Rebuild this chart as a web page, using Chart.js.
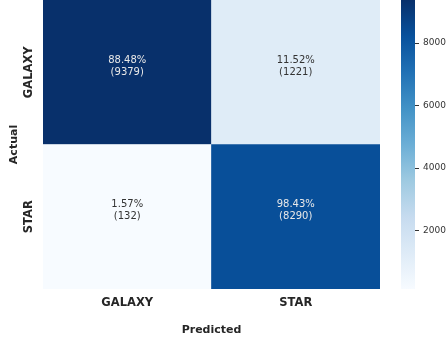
<!DOCTYPE html>
<html>
<head>
<meta charset="utf-8">
<script src="https://cdn.jsdelivr.net/npm/chart.js@4.4.1/dist/chart.umd.min.js"></script>
<style>
  html, body { margin: 0; padding: 0; background: #fff; }
  #wrap { position: relative; width: 446px; height: 347px; overflow: hidden; }
  #matriz { position: absolute; left: 0; top: 0; }
  #barra { position: absolute; left: 390px; top: 0; }
</style>
</head>
<body>
<div id="wrap">
  <canvas id="matriz" width="380" height="347"></canvas>
  <canvas id="barra" width="56" height="347"></canvas>
</div>
<script>
// Classes previstas (colunas) e reais (linhas)
const classesPrevistas = ['GALAXY', 'STAR'];
const classesReais = ['GALAXY', 'STAR'];

// Contagens por linha da matriz de confusão
const contagemGalaxy = [9379, 1221];
const contagemStar = [132, 8290];

// Marcas da barra de cores
const ticksBarra = [2000, 4000, 6000, 8000];

// Paleta "Blues"
const BLUES = ['#f7fbff', '#deebf7', '#c6dbef', '#9ecae1', '#6baed6', '#4292c6', '#2171b5', '#08519c', '#08306b'];

const linhas = [contagemGalaxy, contagemStar];
const todos = linhas.flat();
const vmin = Math.min(...todos);
const vmax = Math.max(...todos);

Chart.defaults.font.family = '"DejaVu Sans", sans-serif';
Chart.defaults.animation = false;

function hexRgb(h) {
    return [1, 3, 5].map(i => parseInt(h.substr(i, 2), 16));
}

function corBlues(valor) {
    let t = (valor - vmin) / (vmax - vmin);
    t = Math.max(0, Math.min(1, t));
    const pos = t * (BLUES.length - 1);
    const i = Math.min(Math.floor(pos), BLUES.length - 2);
    const f = pos - i;
    const a = hexRgb(BLUES[i]);
    const b = hexRgb(BLUES[i + 1]);
    const c = a.map((v, k) => Math.round(v + (b[k] - v) * f));
    return 'rgb(' + c.join(',') + ')';
}

// Texto dentro das células: percentual da linha e contagem
const textoCelulas = {
    id: 'textoCelulas',
    afterDatasetsDraw(chart) {
        const ctx = chart.ctx;
        ctx.save();
        ctx.font = '10px "DejaVu Sans"';
        ctx.textAlign = 'center';
        ctx.textBaseline = 'middle';
        chart.data.datasets.forEach((ds, di) => {
            const meta = chart.getDatasetMeta(di);
            const total = ds.contagens.reduce((a, b) => a + b, 0);
            meta.data.forEach((bar, i) => {
                const n = ds.contagens[i];
                const pct = (n / total * 100).toFixed(2) + '%';
                const cy = (bar.y + bar.base) / 2;
                const t = (n - vmin) / (vmax - vmin);
                ctx.fillStyle = t > 0.5 ? '#e8e8e8' : '#333333';
                ctx.fillText(pct, bar.x, cy - 12);
                ctx.fillText('(' + n + ')', bar.x, cy);
            });
        });
        ctx.restore();
    }
};

// Rótulos verticais do eixo Y
const rotulosY = {
    id: 'rotulosY',
    afterDraw(chart) {
        const escala = chart.scales.y;
        const ctx = chart.ctx;
        ctx.save();
        ctx.font = 'bold 11.5px "DejaVu Sans"';
        ctx.fillStyle = '#262626';
        ctx.textAlign = 'center';
        ctx.textBaseline = 'middle';
        escala.ticks.forEach(t => {
            const y = escala.getPixelForValue(t.value);
            ctx.save();
            ctx.translate(escala.right - 13.5, y);
            ctx.rotate(-Math.PI / 2);
            ctx.fillText(classesReais[linhas.length - 1 - Math.floor(t.value)], 0, 0);
            ctx.restore();
        });
        ctx.restore();
    }
};

function criarMatriz() {
    const ctx = document.getElementById('matriz');
    // linha de baixo (STAR) primeiro, empilhada sob GALAXY
    const datasets = linhas.slice().reverse().map(linha => ({
        data: linha.map(() => 1),
        contagens: linha,
        backgroundColor: linha.map(v => corBlues(v)),
        borderWidth: 0,
        barPercentage: 1,
        categoryPercentage: 1
    }));

    new Chart(ctx, {
        type: 'bar',
        data: { labels: classesPrevistas, datasets: datasets },
        options: {
            responsive: false,
            devicePixelRatio: 1,
            layout: { padding: 0 },
            plugins: {
                legend: { display: false },
                tooltip: { enabled: false }
            },
            scales: {
                x: {
                    stacked: true,
                    grid: { display: false, drawTicks: false },
                    border: { display: false },
                    ticks: {
                        padding: 7,
                        color: '#262626',
                        font: { size: 11.5, weight: 'bold' }
                    },
                    title: {
                        display: true,
                        text: 'Predicted',
                        color: '#262626',
                        font: { size: 11, weight: 'bold' },
                        padding: { top: 4, bottom: 10 }
                    },
                    afterFit: s => { s.height = 58; }
                },
                y: {
                    stacked: true,
                    min: 0,
                    max: 2,
                    grid: { display: false, drawTicks: false },
                    border: { display: false },
                    ticks: { display: false },
                    afterBuildTicks: s => { s.ticks = [{ value: 0.5 }, { value: 1.5 }]; },
                    title: {
                        display: true,
                        text: 'Actual',
                        color: '#262626',
                        font: { size: 11, weight: 'bold' },
                        padding: { top: 8, bottom: 4 }
                    },
                    afterFit: s => { s.width = 43; }
                }
            }
        },
        plugins: [textoCelulas, rotulosY]
    });
}

function criarBarraCores() {
    const ctx = document.getElementById('barra');
    new Chart(ctx, {
        type: 'bar',
        data: {
            labels: [''],
            datasets: [{
                data: [[vmin, vmax]],
                borderWidth: 0,
                barPercentage: 1,
                categoryPercentage: 1,
                backgroundColor: function(c) {
                    const chart = c.chart;
                    if (!chart.chartArea) return BLUES[0];
                    const y = chart.scales.y;
                    const g = chart.ctx.createLinearGradient(0, y.getPixelForValue(vmin), 0, y.getPixelForValue(vmax));
                    BLUES.forEach((cor, i) => g.addColorStop(i / (BLUES.length - 1), cor));
                    return g;
                }
            }]
        },
        options: {
            responsive: false,
            devicePixelRatio: 1,
            layout: { padding: { left: 11, top: 0, bottom: 58, right: 0 } },
            plugins: {
                legend: { display: false },
                tooltip: { enabled: false }
            },
            scales: {
                x: { display: false },
                y: {
                    position: 'right',
                    min: vmin,
                    max: vmax,
                    border: { display: false },
                    grid: {
                        drawOnChartArea: false,
                        drawTicks: true,
                        tickLength: 4,
                        color: '#333333'
                    },
                    afterBuildTicks: s => { s.ticks = ticksBarra.map(v => ({ value: v })); },
                    ticks: {
                        padding: 4,
                        color: '#333333',
                        font: { size: 9 },
                        callback: v => String(v)
                    },
                    afterFit: s => {
                        s.width = 31;
                        s.paddingTop = 0;
                        s.paddingBottom = 0;
                    }
                }
            }
        }
    });
}

document.addEventListener('DOMContentLoaded', function() {
    criarMatriz();
    criarBarraCores();
});
</script>
</body>
</html>
